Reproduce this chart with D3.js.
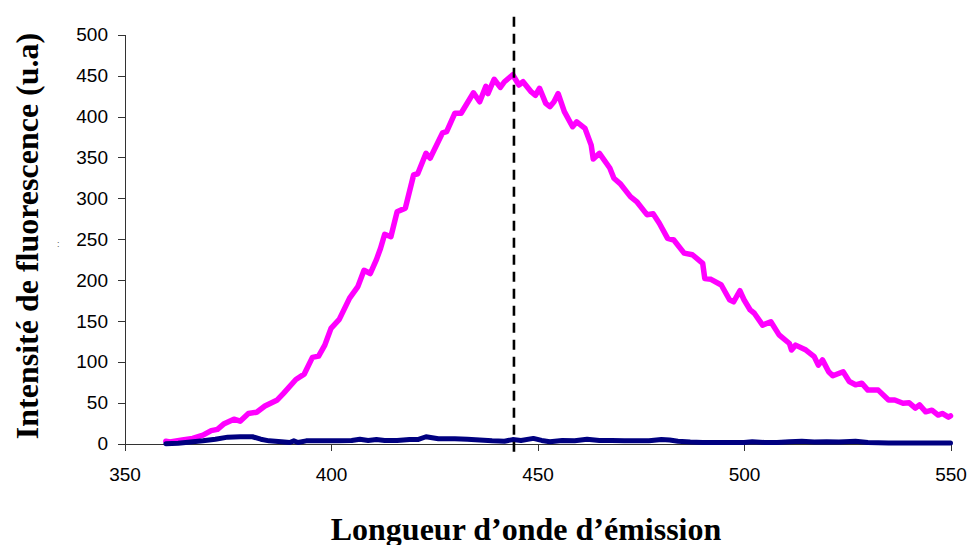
<!DOCTYPE html>
<html>
<head>
<meta charset="utf-8">
<script src="https://cdn.jsdelivr.net/npm/d3@7"></script>
<style>
  html, body { margin: 0; padding: 0; background: #fff; }
  svg { display: block; }
</style>
</head>
<body>
<svg id="chart" width="971" height="545"></svg>
<script>
// ---- data ----
const xTicks = [350, 400, 450, 500, 550];
const yTicks = [0, 50, 100, 150, 200, 250, 300, 350, 400, 450, 500];
const xTitle = "Longueur d\u2019onde d\u2019\u00e9mission";
const yTitle = "Intensit\u00e9 de fluorescence (u.a)";
const peakWavelength = 444.3;

const sampleWavelengths = [360, 361, 364, 366.5, 369, 371, 372.5, 374, 376.5, 378, 380, 382, 384, 387, 388.5,
  391.5, 393.5, 395.5, 397, 398.5, 400, 402, 404.5, 406.5, 408, 409.5, 411, 412, 413, 414.5, 416, 418, 420,
  421, 423, 424, 427, 428, 430, 431.5, 434.5, 436, 437.5, 438, 439.5, 441, 442, 444, 445.5, 446.5, 448.5,
  449.5, 450.5, 452, 453, 454, 455, 456.5, 458.5, 459.5, 461.5, 463, 463.5, 465, 467.5, 468.5, 470, 472.5,
  474, 476.5, 478, 479.5, 481.5, 483, 485.5, 487.5, 490, 490.5, 492, 494.5, 496.5, 497.5, 499, 500, 501.5,
  502.5, 504.5, 506.5, 508.5, 511, 511.5, 512.5, 515, 517, 518, 519, 520.5, 521.5, 524, 525.5, 527, 528.5,
  530, 532.5, 535, 536.5, 538.5, 540, 541.5, 542.5, 544, 545.5, 547, 548, 549.5, 550];
const sampleValues = [3, 2, 4.5, 6.5, 10.5, 16, 17.5, 24, 30, 27.5, 37, 38.5, 46, 53.5, 61.5,
  78.5, 85, 105.5, 107, 120.5, 141, 152, 178, 192, 212, 208, 225, 239, 256, 253, 283.5, 288, 328.5,
  330, 355, 349, 380, 381.5, 404, 404, 429, 418, 437, 428, 445.5, 435.5, 442.5, 451, 438.5, 442.5, 430,
  426, 434.5, 416, 412, 418, 428, 406, 387.5, 393.5, 385.5, 365, 348, 355, 337, 324.5, 318, 302,
  296, 280, 281, 269.5, 251, 249, 233, 231, 220.5, 202, 201, 194, 176, 173.5, 187, 176, 163.5,
  159.5, 145, 149, 133, 122.5, 114.5, 120.5, 114.5, 106.5, 96, 102.5, 88, 83, 88, 76, 72, 74,
  65.5, 65.5, 53.5, 53.5, 49.5, 50, 43.5, 47.5, 39, 41, 35, 37, 32.5, 34];

const blankWavelengths = [360, 363, 366, 369, 372, 375, 378, 381, 383, 385, 388, 390, 391, 392, 394, 398, 402,
  405, 407, 409, 411, 413, 416, 419, 421, 423, 426, 430, 433, 436, 439, 442, 444, 446, 449, 451, 453, 456,
  459, 462, 465, 468, 471, 474, 477, 480, 482, 484, 487, 490, 495, 500, 502, 505, 508, 511, 514, 517, 520,
  523, 527, 530, 535, 540, 545, 550];
const blankValues = [0, 0.5, 2, 3.5, 5.5, 8, 8.5, 8.5, 5.5, 3.5, 2.5, 1.5, 3.5, 1.5, 3.5, 3.5, 3.5,
  4, 5.5, 4, 5, 4, 4, 5, 5, 8.5, 6, 6, 5.5, 4.5, 3.5, 3, 5, 4, 6.5, 4, 2.5, 4,
  3.5, 5.5, 4, 4, 3.5, 3.5, 3.5, 5, 4.5, 3, 2, 1.5, 1.5, 1.5, 2.5, 1.5, 1.5, 2.5, 3, 2, 2.5,
  2, 3, 1.5, 1, 1, 1, 1];

// ---- layout ----
const svg = d3.select("#chart");
const plot = { left: 124.5, right: 950.5, top: 34.7, bottom: 443.7 };

const x = d3.scaleLinear().domain([350, 550]).range([plot.left, plot.right]);
const y = d3.scaleLinear().domain([0, 500]).range([plot.bottom, plot.top]);

const tickFont = "'Liberation Sans', Arial, sans-serif";
const titleFont = "'Liberation Serif', 'Times New Roman', serif";

// y axis
const yAxis = svg.append("g")
  .attr("transform", `translate(${plot.left},0)`)
  .call(d3.axisLeft(y).tickValues(yTicks).tickSize(6.5).tickSizeOuter(0).tickPadding(10).tickFormat(d3.format("d")));
// x axis
const xAxis = svg.append("g")
  .attr("transform", `translate(0,${plot.bottom})`)
  .call(d3.axisBottom(x).tickValues(xTicks).tickSize(7).tickSizeOuter(0).tickPadding(17).tickFormat(d3.format("d")));

[yAxis, xAxis].forEach(g => {
  g.selectAll("path.domain").attr("stroke", "#333").attr("stroke-width", 1).attr("shape-rendering", "crispEdges");
  g.selectAll(".tick line").attr("stroke", "#333").attr("stroke-width", 1).attr("shape-rendering", "crispEdges");
  g.selectAll(".tick text").attr("font-family", tickFont).attr("font-size", 19).attr("fill", "#000");
});

// series
const line = d3.line().x(d => x(d[0])).y(d => y(d[1]));
const sampleData = sampleWavelengths.map((w, i) => [w, sampleValues[i]]);
const blankData = blankWavelengths.map((w, i) => [w, blankValues[i]]);

svg.append("path")
  .datum(sampleData)
  .attr("d", line)
  .attr("fill", "none")
  .attr("stroke", "#FF00FF")
  .attr("stroke-width", 5.5)
  .attr("stroke-linejoin", "round")
  .attr("stroke-linecap", "round");

svg.append("path")
  .datum(blankData)
  .attr("d", line)
  .attr("fill", "none")
  .attr("stroke", "#000080")
  .attr("stroke-width", 5)
  .attr("stroke-linejoin", "round")
  .attr("stroke-linecap", "round");

// dashed vertical marker at emission maximum
svg.append("line")
  .attr("x1", x(peakWavelength)).attr("x2", x(peakWavelength))
  .attr("y1", y(522)).attr("y2", y(-14))
  .attr("stroke", "#000")
  .attr("stroke-width", 2.6)
  .attr("stroke-dasharray", "10,7");

// axis titles
svg.append("text")
  .attr("x", 526).attr("y", 540)
  .attr("text-anchor", "middle")
  .attr("font-family", titleFont)
  .attr("font-weight", "bold")
  .attr("font-size", 32)
  .text(xTitle);

svg.append("text")
  .attr("transform", "translate(38,236) rotate(-90)")
  .attr("text-anchor", "middle")
  .attr("font-family", titleFont)
  .attr("font-weight", "bold")
  .attr("font-size", 32)
  .text(yTitle);

// small stray mark present in the original
svg.append("text")
  .attr("x", 57).attr("y", 247)
  .attr("font-family", tickFont)
  .attr("font-size", 9)
  .attr("fill", "#555")
  .text(":");
</script>
</body>
</html>
